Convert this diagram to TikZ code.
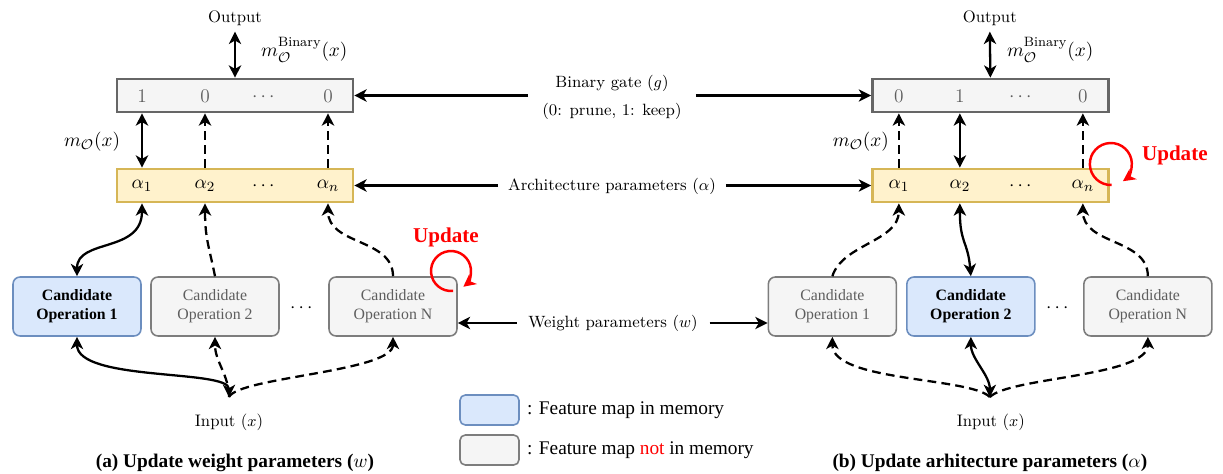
\documentclass[tikz,border=0pt]{standalone}
\usepackage{amsmath}
\usepackage{fontspec}
\newfontfamily\tms{Liberation Serif}
\usetikzlibrary{positioning, calc, arrows.meta}

\definecolor{gatefill}{HTML}{F5F5F5}
\definecolor{gateline}{HTML}{666666}
\definecolor{alphafill}{HTML}{FFF2CC}
\definecolor{alphaline}{HTML}{D6B656}
\definecolor{memfill}{HTML}{DAE8FC}
\definecolor{memline}{HTML}{6C8EBF}
\definecolor{offtext}{HTML}{5E5E5E}
\definecolor{upred}{HTML}{FF0000}

\tikzset{
  conn/.style={line width=1.3pt, -{Stealth[length=7pt,width=7pt,inset=2pt]}},
  bothconn/.style={line width=1.3pt, {Stealth[length=7pt,width=7pt,inset=2pt]}-{Stealth[length=7pt,width=7pt,inset=2pt]}},
  dconn/.style={conn, dash pattern=on 5pt off 3pt},
  gatebox/.style={draw=gateline, fill=gatefill, line width=1.5pt, minimum width=4.72cm, minimum height=0.66cm},
  alphabox/.style={draw=alphaline, fill=alphafill, line width=1.5pt, minimum width=4.72cm, minimum height=0.66cm},
  opon/.style={draw=memline, fill=memfill, line width=0.9pt, rounded corners=4pt,
    minimum width=2.56cm, minimum height=1.18cm, align=center,
    font=\tms\fontsize{9}{11}\selectfont\bfseries},
  opoff/.style={draw=gateline!85, fill=gatefill, line width=0.9pt, rounded corners=4pt,
    minimum width=2.56cm, minimum height=1.18cm, align=center, text=offtext,
    font=\tms\fontsize{9}{11}\selectfont},
  legon/.style={draw=memline, fill=memfill, line width=0.9pt, rounded corners=3pt, minimum width=1.18cm, minimum height=0.6cm},
  legoff/.style={draw=gateline!85, fill=gatefill, line width=0.9pt, rounded corners=3pt, minimum width=1.18cm, minimum height=0.6cm},
  lbl/.style={font=\fontsize{9.5}{11}\selectfont},
  mlbl/.style={font=\fontsize{11}{13}\selectfont},
  gval/.style={font=\fontsize{11}{13}\selectfont, text=offtext},
  aval/.style={font=\fontsize{11}{13}\selectfont},
  legtxt/.style={font=\tms\fontsize{11}{13}\selectfont, inner sep=0pt},
  updlbl/.style={font=\tms\fontsize{12}{14}\selectfont\bfseries, text=upred},
  updarc/.style={line width=1.4pt, upred, -{Stealth[length=7pt,width=7pt,inset=2pt]}},
  captxt/.style={font=\tms\fontsize{11}{13}\selectfont\bfseries}
}

\begin{document}
\begin{tikzpicture}[x=0.02cm, y=-0.02cm]
\useasboundingbox (0,0) rectangle (1223,473);

% Panel (a): weight update
\begin{scope}
  \node[lbl] (outL) at (235,18) {Output};
  \node[gatebox] (gateL) at (235,95.5) {};
  \node[gval] (gL1) at (142,96) {1};
  \node[gval] (gL2) at (205,96) {0};
  \node[gval] (gL3) at (265,97) {$\cdots$};
  \node[gval] (gL4) at (328,96) {0};
  \node[mlbl, right] (mbL) at (255,50) {$m_{\mathcal{O}}^{\text{Binary}}(x)$};
  \node[mlbl] (mL) at (92,142) {$m_{\mathcal{O}}(x)$};

  \node[alphabox] (alL) at (235,185.5) {};
  \node[aval] (aL1) at (142,186) {$\alpha_1$};
  \node[aval] (aL2) at (205,186) {$\alpha_2$};
  \node[aval] (aL3) at (265,186) {$\cdots$};
  \node[aval] (aL4) at (328,186) {$\alpha_n$};

  \node[opon] (opL1) at (77,306.5) {Candidate\\Operation 1};
  \node[opoff] (opL2) at (215,306.5) {Candidate\\Operation 2};
  \node[aval] (dotsL) at (303,308) {$\cdots$};
  \node[opoff] (opL3) at (393,306.5) {Candidate\\Operation N};

  \node[lbl] (inL) at (229,422) {Input ($x$)};
  \coordinate (inLtop) at (229,397);
  \node[updlbl] (updL) at (446,237) {Update};
  \node[captxt] (capL) at (235,463) {(a) Update weight parameters ($w$)};

  \draw[bothconn] (outL.south) -- (gateL.north);
  \draw[bothconn] (gateL.south -| gL1) -- (alL.north -| aL1);
  \draw[dconn] (alL.north -| aL2) -- (gateL.south -| gL2);
  \draw[dconn] (alL.north -| aL4) -- (gateL.south -| gL4);

  \draw[bothconn] (alL.south -| aL1) .. controls +(0,50) and +(0,-38) .. (opL1.north);
  \draw[dconn] (opL2.north) .. controls +(-6,-30) and +(0,35) .. (alL.south -| aL2);
  \draw[dconn] (opL3.north) .. controls +(0,-38) and +(0,42) .. (alL.south -| aL4);

  \draw[bothconn] (inLtop) .. controls +(0,-28) and +(0,45) .. (opL1.south);
  \draw[dconn] (inLtop) .. controls +(0,-22) and +(0,25) .. (opL2.south);
  \draw[dconn] (inLtop) .. controls +(10,-20) and +(0,35) .. (opL3.south);

  \draw[updarc] (451,271) ++(84:20) arc[start angle=84, end angle=412, radius=20];
\end{scope}

% Panel (b): architecture update
\begin{scope}[xshift=15.1cm]
  \node[lbl] (outR) at (235,18) {Output};
  \node[gatebox] (gateR) at (235.5,95.5) {};
  \node[gval] (gR1) at (144,96) {0};
  \node[gval] (gR2) at (205,96) {1};
  \node[gval] (gR3) at (267,97) {$\cdots$};
  \node[gval] (gR4) at (328,96) {0};
  \node[mlbl, right] (mbR) at (246,50) {$m_{\mathcal{O}}^{\text{Binary}}(x)$};
  \node[mlbl] (mR) at (106,142) {$m_{\mathcal{O}}(x)$};

  \node[alphabox] (alR) at (235.5,185.5) {};
  \node[aval] (aR1) at (144,186) {$\alpha_1$};
  \node[aval] (aR2) at (205,186) {$\alpha_2$};
  \node[aval] (aR3) at (267,186) {$\cdots$};
  \node[aval] (aR4) at (328,186) {$\alpha_n$};

  \node[opoff] (opR1) at (77.5,306.5) {Candidate\\Operation 1};
  \node[opon] (opR2) at (216,306.5) {Candidate\\Operation 2};
  \node[aval] (dotsR) at (304,308) {$\cdots$};
  \node[opoff] (opR3) at (393,306.5) {Candidate\\Operation N};

  \node[lbl] (inR) at (236,422) {Input ($x$)};
  \coordinate (inRtop) at (235,397);
  \node[updlbl] (updR) at (420,155) {Update};
  \node[captxt] (capR) at (235,463) {(b) Update arhitecture parameters ($\alpha$)};

  \draw[bothconn] (outR.south) -- (gateR.north);
  \draw[dconn] (alR.north -| aR1) -- (gateR.south -| gR1);
  \draw[bothconn] (gateR.south -| gR2) -- (alR.north -| aR2);
  \draw[dconn] (alR.north -| aR4) -- (gateR.south -| gR4);

  \draw[dconn] (opR1.north) .. controls +(10,-32) and +(0,38) .. (alR.south -| aR1);
  \draw[bothconn] (alR.south -| aR2) .. controls +(0,40) and +(-3,-35) .. (opR2.north);
  \draw[dconn] (opR3.north) .. controls +(0,-38) and +(0,42) .. (alR.south -| aR4);

  \draw[dconn] (inRtop) .. controls +(-20,-20) and +(0,45) .. (opR1.south);
  \draw[bothconn] (inRtop) .. controls +(0,-22) and +(0,22) .. (opR2.south);
  \draw[dconn] (inRtop) .. controls +(20,-20) and +(0,40) .. (opR3.south);

  \draw[updarc] (356,164) ++(88:21) arc[start angle=88, end angle=415, radius=21];
\end{scope}

% shared labels between the panels
\node[lbl, align=center, inner xsep=8pt, font=\fontsize{9.3}{16}\selectfont] (gatelbl) at (612,97) {Binary gate ($g$)\\(0: prune, 1: keep)};
\draw[conn] (gatelbl.west |- gateL.east) -- (gateL.east);
\draw[conn] (gatelbl.east |- gateR.west) -- (gateR.west);

\node[lbl, inner xsep=5.5pt, font=\fontsize{9.3}{11}\selectfont] (archlbl) at (612,186) {Architecture parameters ($\alpha$)};
\draw[conn] (archlbl.west |- alL.east) -- (alL.east);
\draw[conn] (archlbl.east |- alR.west) -- (alR.west);

\node[lbl, inner xsep=6.5pt, font=\fontsize{9.3}{11}\selectfont] (wlbl) at (613,323) {Weight parameters ($w$)};
\draw[conn] (wlbl.west) -- (wlbl.west -| opL3.east);
\draw[conn] (wlbl.east) -- (wlbl.east -| opR1.west);

% legend
\node[legon] (legA) at (489.5,410) {};
\node[legtxt, right=0.14cm of legA] (legAt) {: Feature map in memory};
\node[legoff] (legB) at (489.5,450) {};
\node[legtxt, right=0.14cm of legB] (legBt) {: Feature map {\color{upred}not} in memory};

\end{tikzpicture}
\end{document}
